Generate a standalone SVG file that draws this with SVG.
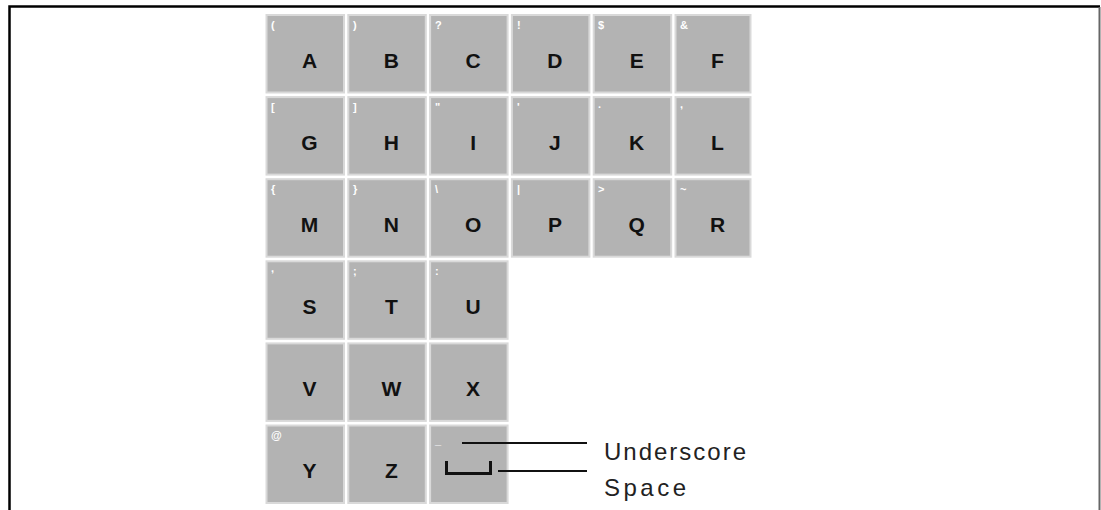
<svg xmlns="http://www.w3.org/2000/svg" width="1101" height="510" viewBox="0 0 1101 510">
<style>
.key{fill:#b3b3b3;stroke:#d9d9d9;stroke-width:2}
.ltr{font-family:"Liberation Sans",Arial,sans-serif;font-weight:bold;font-size:21px;fill:#111;text-anchor:middle}
.sym{font-family:"Liberation Sans",Arial,sans-serif;font-size:11px;fill:#fff;font-weight:bold}
.lbl{font-family:"Liberation Sans",Arial,sans-serif;font-size:24px;fill:#222}
.ln{stroke:#111;stroke-width:2;fill:none}
</style>
<rect x="0" y="0" width="1101" height="510" fill="#fff"/>
<path d="M9.5,510 V6.5 H1100" fill="none" stroke="#000" stroke-width="2.5"/>
<path d="M1099.5,7 V510" fill="none" stroke="#666" stroke-width="2"/>
<g id="key-A"><rect class="key" x="266.5" y="15" width="77.5" height="77.5"/><text class="sym" x="271" y="29">(</text><text class="ltr" x="309.5" y="68">A</text></g>
<g id="key-B"><rect class="key" x="348.3" y="15" width="77.5" height="77.5"/><text class="sym" x="353" y="29">)</text><text class="ltr" x="391.3" y="68">B</text></g>
<g id="key-C"><rect class="key" x="430.1" y="15" width="77.5" height="77.5"/><text class="sym" x="435" y="29">?</text><text class="ltr" x="473.1" y="68">C</text></g>
<g id="key-D"><rect class="key" x="511.9" y="15" width="77.5" height="77.5"/><text class="sym" x="517" y="29">!</text><text class="ltr" x="554.9" y="68">D</text></g>
<g id="key-E"><rect class="key" x="593.7" y="15" width="77.5" height="77.5"/><text class="sym" x="598" y="29">$</text><text class="ltr" x="636.7" y="68">E</text></g>
<g id="key-F"><rect class="key" x="675.5" y="15" width="75" height="77.5"/><text class="sym" x="680" y="29">&amp;</text><text class="ltr" x="717.5" y="68">F</text></g>

<g id="key-G"><rect class="key" x="266.5" y="97.1" width="77.5" height="77.5"/><text class="sym" x="271" y="111">[</text><text class="ltr" x="309.5" y="150">G</text></g>
<g id="key-H"><rect class="key" x="348.3" y="97.1" width="77.5" height="77.5"/><text class="sym" x="353" y="111">]</text><text class="ltr" x="391.3" y="150">H</text></g>
<g id="key-I"><rect class="key" x="430.1" y="97.1" width="77.5" height="77.5"/><text class="sym" x="435" y="111">"</text><text class="ltr" x="473.1" y="150">I</text></g>
<g id="key-J"><rect class="key" x="511.9" y="97.1" width="77.5" height="77.5"/><text class="sym" x="517" y="111">'</text><text class="ltr" x="554.9" y="150">J</text></g>
<g id="key-K"><rect class="key" x="593.7" y="97.1" width="77.5" height="77.5"/><text class="sym" x="598" y="108">.</text><text class="ltr" x="636.7" y="150">K</text></g>
<g id="key-L"><rect class="key" x="675.5" y="97.1" width="75" height="77.5"/><text class="sym" x="680" y="108">,</text><text class="ltr" x="717.5" y="150">L</text></g>

<g id="key-M"><rect class="key" x="266.5" y="179.2" width="77.5" height="77.5"/><text class="sym" x="271" y="193">{</text><text class="ltr" x="309.5" y="232">M</text></g>
<g id="key-N"><rect class="key" x="348.3" y="179.2" width="77.5" height="77.5"/><text class="sym" x="353" y="193">}</text><text class="ltr" x="391.3" y="232">N</text></g>
<g id="key-O"><rect class="key" x="430.1" y="179.2" width="77.5" height="77.5"/><text class="sym" x="435" y="193">\</text><text class="ltr" x="473.1" y="232">O</text></g>
<g id="key-P"><rect class="key" x="511.9" y="179.2" width="77.5" height="77.5"/><text class="sym" x="517" y="193">|</text><text class="ltr" x="554.9" y="232">P</text></g>
<g id="key-Q"><rect class="key" x="593.7" y="179.2" width="77.5" height="77.5"/><text class="sym" x="598" y="193">&gt;</text><text class="ltr" x="636.7" y="232">Q</text></g>
<g id="key-R"><rect class="key" x="675.5" y="179.2" width="75" height="77.5"/><text class="sym" x="680" y="193">~</text><text class="ltr" x="717.5" y="232">R</text></g>

<g id="key-S"><rect class="key" x="266.5" y="261.3" width="77.5" height="77.5"/><text class="sym" x="271" y="272">,</text><text class="ltr" x="309.5" y="314">S</text></g>
<g id="key-T"><rect class="key" x="348.3" y="261.3" width="77.5" height="77.5"/><text class="sym" x="353" y="275">;</text><text class="ltr" x="391.3" y="314">T</text></g>
<g id="key-U"><rect class="key" x="430.1" y="261.3" width="77.5" height="77.5"/><text class="sym" x="435" y="275">:</text><text class="ltr" x="473.1" y="314">U</text></g>

<g id="key-V"><rect class="key" x="266.5" y="343.4" width="77.5" height="77.5"/><text class="ltr" x="309.5" y="396">V</text></g>
<g id="key-W"><rect class="key" x="348.3" y="343.4" width="77.5" height="77.5"/><text class="ltr" x="391.3" y="396">W</text></g>
<g id="key-X"><rect class="key" x="430.1" y="343.4" width="77.5" height="77.5"/><text class="ltr" x="473.1" y="396">X</text></g>

<g id="key-Y"><rect class="key" x="266.5" y="425.5" width="77.5" height="77.5"/><text class="sym" x="271" y="439">@</text><text class="ltr" x="309.5" y="478">Y</text></g>
<g id="key-Z"><rect class="key" x="348.3" y="425.5" width="77.5" height="77.5"/><text class="ltr" x="391.3" y="478">Z</text></g>
<g id="key-underscore-space"><rect class="key" x="430.1" y="425.5" width="77.5" height="77.5"/><text class="sym" x="435" y="444">_</text><path d="M446.5,461 V473.5 H490.5 V461" fill="none" stroke="#111" stroke-width="3"/></g>

<g id="connectors">
<line class="ln" x1="462" y1="443" x2="587" y2="443"/>
<line class="ln" x1="498" y1="471" x2="587" y2="471"/>
</g>
<g id="labels">
<text class="lbl" x="604" y="460" textLength="142" lengthAdjust="spacing">Underscore</text>
<text class="lbl" x="604" y="496" textLength="82" lengthAdjust="spacing">Space</text>
</g>
</svg>
